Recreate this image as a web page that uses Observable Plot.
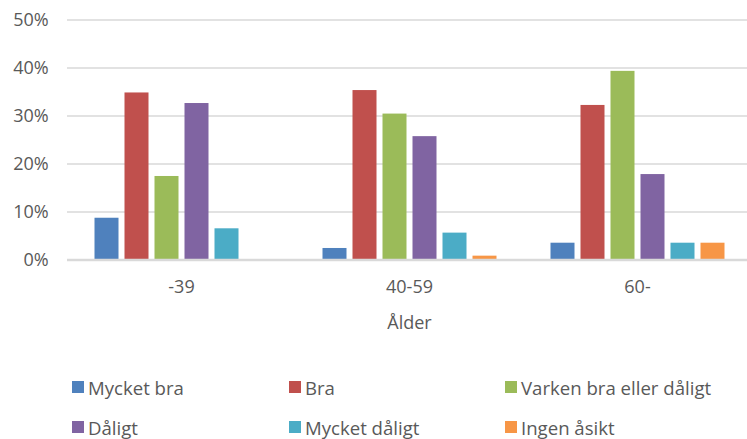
<!DOCTYPE html>
<html>
<head>
<meta charset="utf-8">
<script src="https://cdn.jsdelivr.net/npm/d3@7"></script>
<script src="https://cdn.jsdelivr.net/npm/@observablehq/plot@0.6"></script>
<style>
  html, body { margin: 0; padding: 0; background: #fff; }
  #chart svg { display: block; }
  .legend {
    display: grid;
    grid-template-columns: 217px 216px auto;
    grid-auto-rows: 40px;
    padding-left: 72px;
    margin-top: 22px;
    font-family: "Open Sans", sans-serif;
    font-size: 18.6px;
    color: #595959;
  }
  .legend .item { display: flex; align-items: center; }
  .legend .sw { width: 12px; height: 12px; margin-right: 4px; flex: none; }
</style>
</head>
<body>
<div id="chart"></div>
<script>
const ages = ["-39", "40-59", "60-"];
const series = ["Mycket bra", "Bra", "Varken bra eller dåligt", "Dåligt", "Mycket dåligt", "Ingen åsikt"];
const colors = ["#4f81bd", "#c0504d", "#9bbb59", "#8064a2", "#4bacc6", "#f79646"];
const values39 = [8.7, 34.8, 17.4, 32.6, 6.5, 0];
const values4059 = [2.4, 35.3, 30.4, 25.7, 5.6, 0.8];
const values60 = [3.5, 32.2, 39.3, 17.8, 3.5, 3.5];
const yTicks = [0, 10, 20, 30, 40, 50];
const xLabel = "Ålder";

const valuesByAge = [values39, values4059, values60];
const data = [];
ages.forEach((age, i) => series.forEach((s, j) => data.push({age, series: s, value: valuesByAge[i][j]})));

const chart = Plot.plot({
  width: 747,
  height: 345,
  marginLeft: 66.5,
  marginRight: -4.5,
  marginTop: 19.5,
  marginBottom: 85.5,
  style: {fontFamily: "Open Sans, sans-serif", fontSize: "18px", color: "#595959", background: "#fff"},
  fx: {domain: ages, padding: 0},
  x: {domain: series, paddingInner: 0.21, paddingOuter: 0.855, axis: null},
  y: {domain: [0, 50]},
  color: {domain: series, range: colors},
  marks: [
    Plot.ruleY(yTicks.filter(d => d > 0), {stroke: "#d9d9d9", strokeWidth: 1.6}),
    Plot.barY(data, {fx: "age", x: "series", y: "value", fill: "series", inset: 0}),
    Plot.ruleY([0], {stroke: "#d9d9d9", strokeWidth: 2.4}),
    Plot.axisY({ticks: yTicks, tickFormat: d => d + "%", tickSize: 0, tickPadding: 18.8, label: null, fill: "#595959"}),
    Plot.axisFx({anchor: "bottom", tickSize: 0, tickPadding: 20, label: xLabel, labelAnchor: "center", labelOffset: 69, fill: "#595959"})
  ]
});
document.getElementById("chart").appendChild(chart);

const legend = document.createElement("div");
legend.className = "legend";
series.forEach((s, i) => {
  const item = document.createElement("div");
  item.className = "item";
  const sw = document.createElement("span");
  sw.className = "sw";
  sw.style.background = colors[i];
  const t = document.createElement("span");
  t.textContent = s;
  item.appendChild(sw);
  item.appendChild(t);
  legend.appendChild(item);
});
document.body.appendChild(legend);
</script>
</body>
</html>
